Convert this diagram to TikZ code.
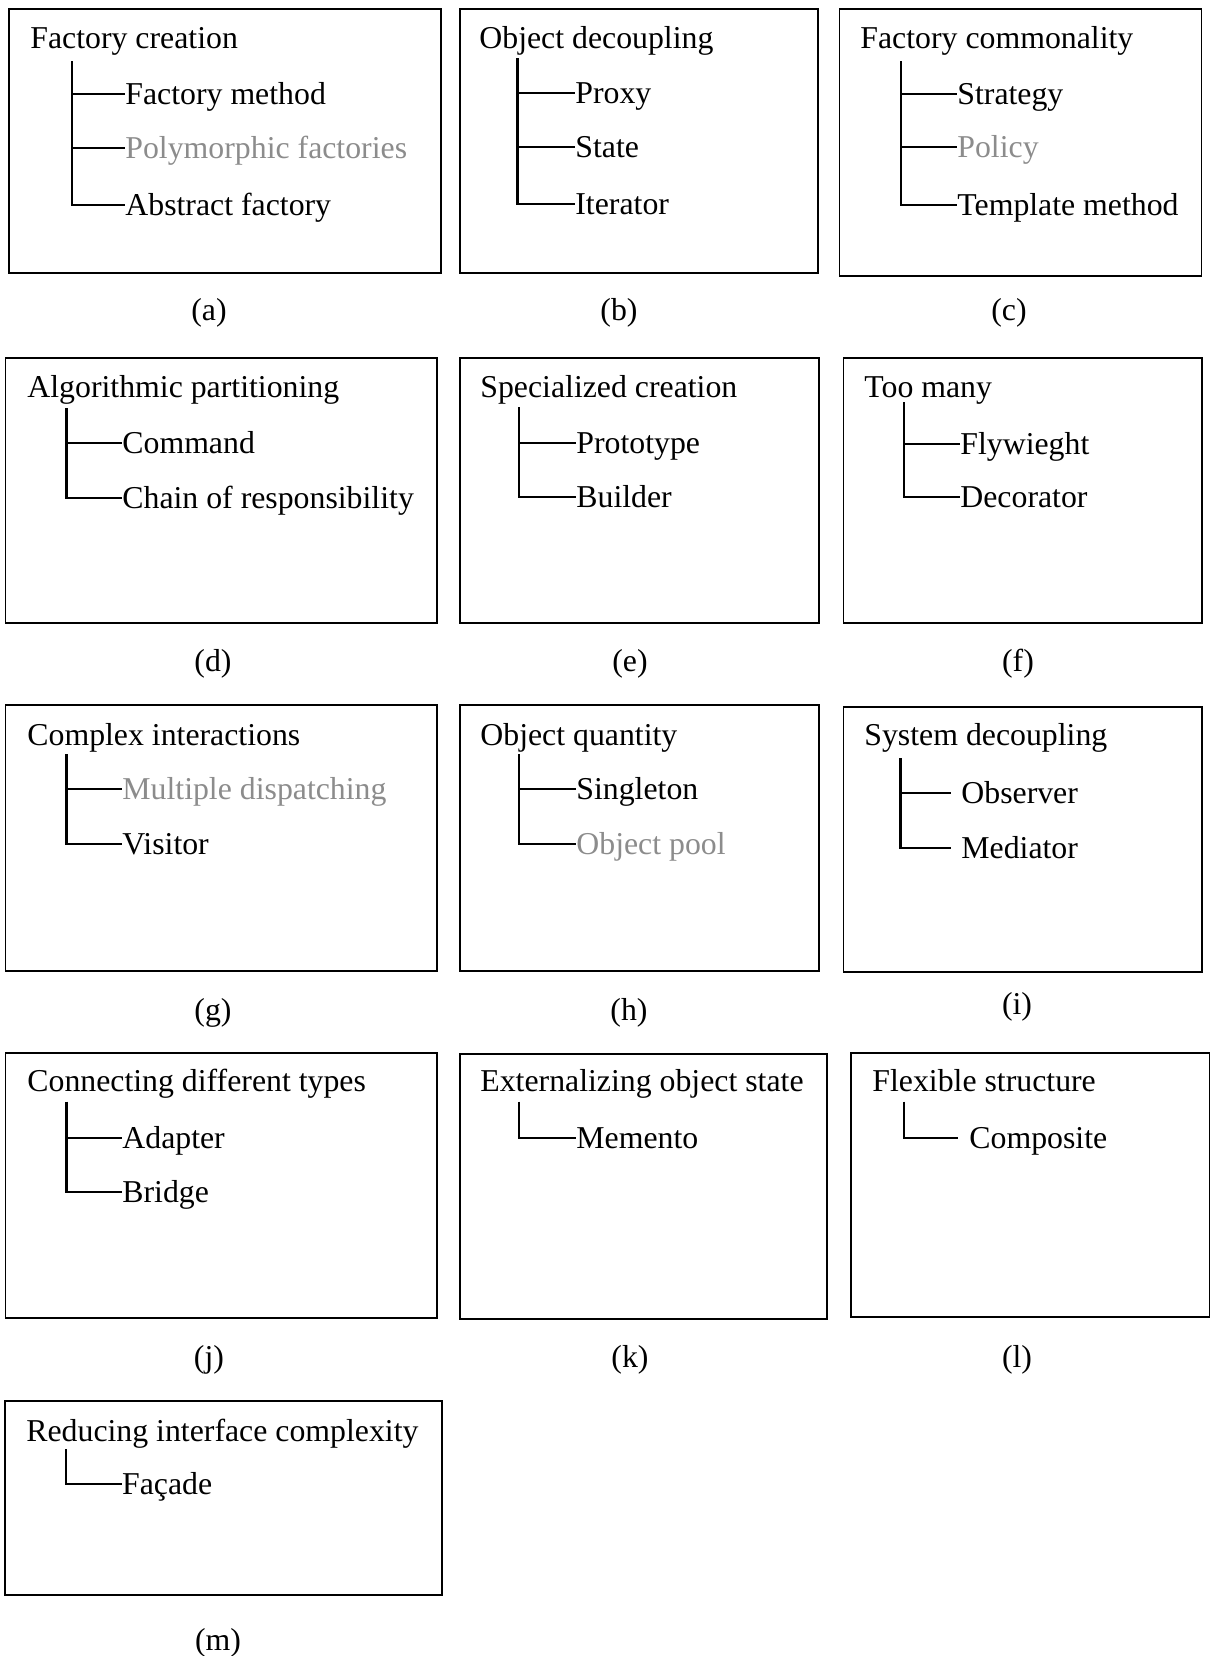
\documentclass[tikz,border=0pt]{standalone}
\usepackage{fontspec}
\setmainfont{Liberation Serif}
\definecolor{fadedtext}{HTML}{8C8C8C}
\tikzset{
  panel/.style={draw=black, line width=0.9pt},
  headtext/.style={anchor=base west, inner sep=0pt, font=\fontsize{15.9}{19}\selectfont},
  leaftext/.style={anchor=west, inner sep=0pt, text height=10.5pt, text depth=0pt, font=\fontsize{15.9}{19}\selectfont},
  faded/.style={text=fadedtext},
  treeline/.style={line width=1.2pt},
  caption/.style={inner sep=0pt, font=\fontsize{15.9}{19}\selectfont}
}
\begin{document}
\begin{tikzpicture}[x=0.5pt,y=-0.5pt]
\useasboundingbox (0,0) rectangle (1210,1656);
% ---------- Row 1 ----------
\draw[panel] (9,9) rectangle (441,273);
\node[headtext] (ta) at (30,48) {Factory creation};
\coordinate (va) at (72,61);
\node[leaftext] (a1) at (125,94) {Factory method};
\node[leaftext,faded] (a2) at (125,148) {Polymorphic factories};
\node[leaftext] (a3) at (125,205) {Abstract factory};
\draw[treeline] (va |- a1.west) -- (a1.west);
\draw[treeline] (va |- a2.west) -- (a2.west);
\draw[treeline] (va) |- (a3.west);
\node[caption] (la) at (209,313) {(a)};

\draw[panel] (459.6,9) rectangle (818,273);
\node[headtext] (tb) at (479,48) {Object decoupling};
\coordinate (vb) at (517.5,58);
\node[leaftext] (b1) at (575,93) {Proxy};
\node[leaftext] (b2) at (575,147) {State};
\node[leaftext] (b3) at (575,204) {Iterator};
\draw[treeline] (vb |- b1.west) -- (b1.west);
\draw[treeline] (vb |- b2.west) -- (b2.west);
\draw[treeline] (vb) |- (b3.west);
\node[caption] (lb) at (619,313) {(b)};

\draw[panel] (839.5,9) rectangle (1201.5,276);
\node[headtext] (tc) at (860,48) {Factory commonality};
\coordinate (vc) at (901,61);
\node[leaftext] (c1) at (957,94) {Strategy};
\node[leaftext,faded] (c2) at (957,147) {Policy};
\node[leaftext] (c3) at (957,205) {Template method};
\draw[treeline] (vc |- c1.west) -- (c1.west);
\draw[treeline] (vc |- c2.west) -- (c2.west);
\draw[treeline] (vc) |- (c3.west);
\node[caption] (lc) at (1009,313) {(c)};

% ---------- Row 2 ----------
\draw[panel] (5.4,358) rectangle (436.7,623);
\node[headtext] (td) at (27,397) {Algorithmic partitioning};
\coordinate (vd) at (66.4,408);
\node[leaftext] (d1) at (122,443) {Command};
\node[leaftext] (d2) at (122,498) {Chain of responsibility};
\draw[treeline] (vd |- d1.west) -- (d1.west);
\draw[treeline] (vd) |- (d2.west);
\node[caption] (ld) at (213,664) {(d)};

\draw[panel] (460,358) rectangle (818.7,623);
\node[headtext] (te) at (480,397) {Specialized creation};
\coordinate (ve) at (519,407);
\node[leaftext] (e1) at (576,443) {Prototype};
\node[leaftext] (e2) at (576,497) {Builder};
\draw[treeline] (ve |- e1.west) -- (e1.west);
\draw[treeline] (ve) |- (e2.west);
\node[caption] (le) at (630,664) {(e)};

\draw[panel] (843.4,358) rectangle (1202,623);
\node[headtext] (tf) at (864,397) {Too many};
\coordinate (vf) at (904,402);
\node[leaftext] (f1) at (960,444) {Flywieght};
\node[leaftext] (f2) at (960,497) {Decorator};
\draw[treeline] (vf |- f1.west) -- (f1.west);
\draw[treeline] (vf) |- (f2.west);
\node[caption] (lf) at (1018,664) {(f)};

% ---------- Row 3 ----------
\draw[panel] (5.4,705) rectangle (436.7,970.7);
\node[headtext] (tg) at (27,745) {Complex interactions};
\coordinate (vg) at (66.4,754);
\node[leaftext,faded] (g1) at (122,789) {Multiple dispatching};
\node[leaftext] (g2) at (122,844) {Visitor};
\draw[treeline] (vg |- g1.west) -- (g1.west);
\draw[treeline] (vg) |- (g2.west);
\node[caption] (lg) at (213,1013) {(g)};

\draw[panel] (460,705) rectangle (818.7,970.7);
\node[headtext] (th) at (480,745) {Object quantity};
\coordinate (vh) at (519,754);
\node[leaftext] (h1) at (576,789) {Singleton};
\node[leaftext,faded] (h2) at (576,844) {Object pool};
\draw[treeline] (vh |- h1.west) -- (h1.west);
\draw[treeline] (vh) |- (h2.west);
\node[caption] (lh) at (629,1013) {(h)};

\draw[panel] (843.4,706.7) rectangle (1202,971.7);
\node[headtext] (ti) at (864,745) {System decoupling};
\coordinate (vi) at (900.5,758);
\node[leaftext] (i1) at (961,793) {Observer};
\node[leaftext] (i2) at (961,848) {Mediator};
\draw[treeline] (vi |- i1.west) -- ([xshift=-4.8pt]i1.west);
\draw[treeline] (vi) |- ([xshift=-4.8pt]i2.west);
\node[caption] (li) at (1017,1007) {(i)};

% ---------- Row 4 ----------
\draw[panel] (5.4,1053) rectangle (436.7,1317.7);
\node[headtext] (tj) at (27,1091.7) {Connecting different types};
\coordinate (vj) at (66.4,1101.7);
\node[leaftext] (j1) at (122,1137.7) {Adapter};
\node[leaftext] (j2) at (122,1191.7) {Bridge};
\draw[treeline] (vj |- j1.west) -- (j1.west);
\draw[treeline] (vj) |- (j2.west);
\node[caption] (lj) at (209,1360) {(j)};

\draw[panel] (460,1054) rectangle (827,1319);
\node[headtext] (tk) at (480,1091.7) {Externalizing object state};
\coordinate (vk) at (519,1101.7);
\node[leaftext] (k1) at (576,1137.7) {Memento};
\draw[treeline] (vk) |- (k1.west);
\node[caption] (lk) at (630,1360) {(k)};

\draw[panel] (851,1053) rectangle (1209.5,1317);
\node[headtext] (tl) at (872,1091.7) {Flexible structure};
\coordinate (vl) at (904,1101.7);
\node[leaftext] (l1) at (969,1137.7) {Composite};
\draw[treeline] (vl) |- ([xshift=-5.5pt]l1.west);
\node[caption] (ll) at (1017,1360) {(l)};

% ---------- Row 5 ----------
\draw[panel] (4.7,1400.7) rectangle (442,1595);
\node[headtext] (tm) at (26,1441) {Reducing interface complexity};
\coordinate (vm) at (65.7,1449);
\node[leaftext] (m1) at (121.7,1484) {Façade};
\draw[treeline] (vm) |- (m1.west);
\node[caption] (lm) at (218,1643) {(m)};
\end{tikzpicture}
\end{document}
